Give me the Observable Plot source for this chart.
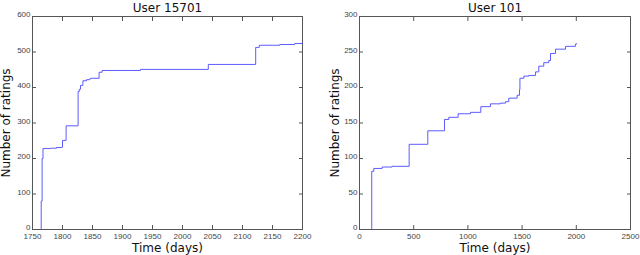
<!DOCTYPE html>
<html><head><meta charset="utf-8">
<script src="https://cdn.jsdelivr.net/npm/d3@7"></script>
<script src="https://cdn.jsdelivr.net/npm/@observablehq/plot@0.6"></script>
<style>
body{margin:0;background:#fff;}
#wrap{display:flex;width:640px;height:255px;}
svg{font-family:"Liberation Sans",sans-serif;}
</style></head>
<body><div id="wrap"></div>
<script>
// User 15701: day at which cumulative count steps to value
const daysA   = [1764.5,1764.5,1766,1767.5,1780,1790,1799,1800,1806,1826,1828,1830,1834,1840,1845,1847,1861,1866,1930,2043,2122,2128,2162,2187,2200];
const countsA = [0,80,200,228,229,231,232,251,292,389,395,406,419,422,424,426,443,448,451,465,513,519,521,524,526];
// User 101
const daysB   = [113,113,132,209,300,458,630,784,824,910,1024,1119,1208,1300,1347,1377,1454,1476,1480,1516,1562,1624,1654,1700,1746,1762,1808,1900,1992,2000];
const countsB = [0,82,86,88,89,120,139,155,158,163,165,173,177,178,180,185,189,197,213,216,217,222,230,235,238,248,254,258,261,262];

const titleA = "User 15701", titleB = "User 101";
const xLabel = "Time (days)", yLabel = "Number of ratings";
const xTicksA = d3.range(1750, 2201, 50), yTicksA = d3.range(0, 601, 100);
const xTicksB = d3.range(0, 2501, 500), yTicksB = d3.range(0, 301, 50);

function chart({days, counts, title, xDomain, yDomain, xTicks, yTicks, ml, mr, yl}) {
  const data = days.map((d, i) => ({x: d, y: counts[i]}));
  const fmt = d3.format("d");
  const none = () => "";
  return Plot.plot({
    width: 320, height: 255,
    marginLeft: ml, marginRight: mr, marginTop: 16, marginBottom: 26,
    style: {fontFamily: "Liberation Sans, sans-serif", color: "#333"},
    x: {domain: xDomain}, y: {domain: yDomain},
    marks: [
      Plot.frame({stroke: "#555"}),
      Plot.axisX({ticks: xTicks, tickSize: -4, tickFormat: none, stroke: "#555", label: null}),
      Plot.axisX({ticks: xTicks, tickSize: 0, tickPadding: 4, fontSize: 8, fill: "#444", label: null, tickFormat: fmt}),
      Plot.axisX({anchor: "top", ticks: xTicks, tickSize: -4, tickFormat: none, stroke: "#555", label: null}),
      Plot.axisY({ticks: yTicks, tickSize: -4, tickFormat: none, stroke: "#555", label: null}),
      Plot.axisY({ticks: yTicks, tickSize: 0, tickPadding: 2, fontSize: 8, fill: "#444", label: null, tickFormat: fmt, dy: -2}),
      Plot.axisY({anchor: "right", ticks: yTicks, tickSize: -4, tickFormat: none, stroke: "#555", label: null}),
      Plot.line(data, {x: "x", y: "y", curve: "step-after", stroke: "#4a4aff", strokeWidth: 0.9}),
      Plot.text([title], {frameAnchor: "top", dy: -8, fontSize: 12, fontFamily: "DejaVu Sans", fill: "#111", lineAnchor: "middle"}),
      Plot.text([xLabel], {frameAnchor: "bottom", dy: 19, fontSize: 12, fontFamily: "DejaVu Sans", fill: "#111", lineAnchor: "middle"}),
      Plot.text([yLabel], {frameAnchor: "left", dx: -(ml - yl), rotate: -90, fontSize: 12, fontFamily: "DejaVu Sans", fill: "#111", lineAnchor: "middle", textAnchor: "middle"})
    ]
  });
}

const wrap = document.getElementById("wrap");
wrap.append(chart({days: daysA, counts: countsA, title: titleA, xDomain: [1750, 2200], yDomain: [0, 600], xTicks: xTicksA, yTicks: yTicksA, ml: 32, mr: 18, yl: 6}));
wrap.append(chart({days: daysB, counts: countsB, title: titleB, xDomain: [0, 2500], yDomain: [0, 300], xTicks: xTicksB, yTicks: yTicksB, ml: 39, mr: 10, yl: 15}));
</script></body></html>
